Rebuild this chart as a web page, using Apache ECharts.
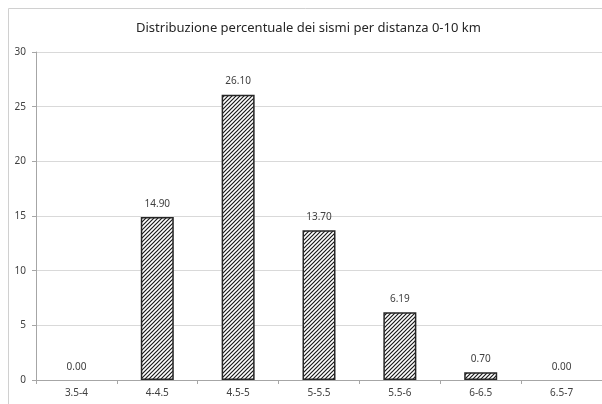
<!DOCTYPE html>
<html>
<head>
<meta charset="utf-8">
<script src="https://cdn.jsdelivr.net/npm/echarts@6/dist/echarts.min.js"></script>
<style>
  html, body { margin: 0; padding: 0; background: #fff; }
  #chart { width: 602px; height: 404px; }
</style>
</head>
<body>
<div id="chart"></div>
<script>
// Magnitude classes and percentage of events in each (0-10 km distance)
const categories = ['3.5-4', '4-4.5', '4.5-5', '5-5.5', '5.5-6', '6-6.5', '6.5-7'];
const percentages = [0.00, 14.90, 26.10, 13.70, 6.19, 0.70, 0.00];
const yTicks = [0, 5, 10, 15, 20, 25, 30];

// Diagonal hatch tile used as the bar fill
function hatchTile() {
  const c = document.createElement('canvas');
  const s = 4;
  c.width = s; c.height = s;
  const g = c.getContext('2d');
  g.fillStyle = '#ffffff';
  g.fillRect(0, 0, s, s);
  g.strokeStyle = '#1a1a1a';
  g.lineWidth = 1.2;
  g.beginPath();
  g.moveTo(-1, s + 1); g.lineTo(s + 1, -1);
  g.moveTo(-1, 1); g.lineTo(1, -1);
  g.moveTo(s - 1, s + 1); g.lineTo(s + 1, s - 1);
  g.stroke();
  return c;
}

// Empty classes get no outline so nothing is drawn on the baseline
const barData = percentages.map(v => v === 0
  ? { value: v, itemStyle: { borderWidth: 0, color: 'transparent' } }
  : v);

const font = 'Noto Sans';
const chart = echarts.init(document.getElementById('chart'));
chart.setOption({
  animation: false,
  backgroundColor: '#ffffff',
  graphic: [{
    type: 'rect',
    shape: { x: 8.5, y: 8.5, width: 620, height: 420 },
    style: { fill: 'none', stroke: '#d0d0d0', lineWidth: 1 },
    z: -1
  }],
  title: {
    text: 'Distribuzione percentuale dei sismi per distanza 0-10 km',
    left: 131,
    top: 17,
    textStyle: { fontFamily: font, fontSize: 13, fontWeight: 'normal', color: '#262626' }
  },
  grid: { left: 36, top: 52, right: -1, bottom: 24 },
  xAxis: {
    type: 'category',
    data: categories,
    axisLine: { lineStyle: { color: '#a6a6a6' } },
    axisTick: { show: true, length: 4, lineStyle: { color: '#a6a6a6' } },
    axisLabel: { fontFamily: font, fontSize: 10, color: '#404040', margin: 8 }
  },
  yAxis: {
    type: 'value',
    min: yTicks[0],
    max: yTicks[yTicks.length - 1],
    interval: 5,
    axisLine: { show: true, lineStyle: { color: '#a6a6a6' } },
    axisTick: { show: true, length: 4, lineStyle: { color: '#a6a6a6' } },
    splitLine: { lineStyle: { color: '#d9d9d9' } },
    axisLabel: { fontFamily: font, fontSize: 10, color: '#404040', margin: 10 }
  },
  series: [{
    type: 'bar',
    data: barData,
    barWidth: 33,
    itemStyle: {
      color: { image: hatchTile(), repeat: 'repeat' },
      borderColor: '#262626',
      borderWidth: 1.5
    },
    label: {
      show: true,
      position: 'top',
      distance: 8,
      formatter: p => p.value.toFixed(2),
      fontFamily: font,
      fontSize: 10,
      color: '#404040'
    }
  }]
});
</script>
</body>
</html>
